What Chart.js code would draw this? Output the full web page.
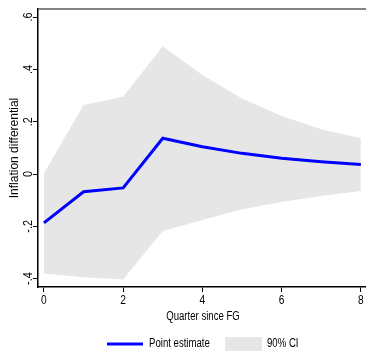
<!DOCTYPE html>
<html>
<head>
<meta charset="utf-8">
<script src="https://cdn.jsdelivr.net/npm/chart.js@4"></script>
<style>
  body { margin: 0; background: #fff; }
  #wrap { width: 366px; height: 351px; position: relative; }
</style>
</head>
<body>
<div id="wrap"><canvas id="grafico"></canvas></div>
<script>
// quarters since FG and estimates
const quarters = [0, 1, 2, 3, 4, 5, 6, 7, 8];
const pointEstimate = [-0.187, -0.068, -0.053, 0.137, 0.104, 0.079, 0.060, 0.047, 0.036];
const ciUpper = [0.002, 0.264, 0.295, 0.489, 0.379, 0.289, 0.222, 0.171, 0.137];
const ciLower = [-0.380, -0.395, -0.403, -0.218, -0.176, -0.135, -0.107, -0.084, -0.065];

const xTicks = [0, 2, 4, 6, 8];
const yTicks = [-0.4, -0.2, 0, 0.2, 0.4, 0.6];
const yTickLabels = ["-.4", "-.2", "0", ".2", ".4", ".6"];

const FONT = "'Liberation Sans', Arial, sans-serif";

function toPoints(vals) {
  return quarters.map(function (q, i) { return { x: q, y: vals[i] }; });
}

// text squeezed horizontally (stata font is narrow), optional rotation
function texto(ctx, str, x, y, align, rot, sq) {
  ctx.save();
  ctx.translate(x, y);
  if (rot) ctx.rotate(rot);
  ctx.scale(sq || 0.8, 1);
  ctx.textAlign = align;
  ctx.textBaseline = "middle";
  ctx.fillText(str, 0, 0);
  ctx.restore();
}

// axis labels, legend and the top frame line
const extras = {
  id: "extras",
  afterDraw: function (chart) {
    const ctx = chart.ctx;
    const area = chart.chartArea;
    const ys = chart.scales.y;
    const xs = chart.scales.x;

    ctx.save();
    // top line
    ctx.strokeStyle = "#5a5a5a";
    ctx.lineWidth = 1.5;
    ctx.beginPath();
    ctx.moveTo(area.left, area.top);
    ctx.lineTo(area.right, area.top);
    ctx.stroke();

    ctx.fillStyle = "#000";
    ctx.font = "12px " + FONT;

    // rotated y tick labels
    yTicks.forEach(function (v, i) {
      texto(ctx, yTickLabels[i], 28.5, ys.getPixelForValue(v), "center", -Math.PI / 2, 0.9);
    });

    // x tick labels
    xTicks.forEach(function (v) {
      texto(ctx, String(v), xs.getPixelForValue(v), 301, "center", 0, 0.85);
    });

    // titles
    texto(ctx, "Inflation differential", 15, (area.top + area.bottom) / 2, "center", -Math.PI / 2, 1);
    texto(ctx, "Quarter since FG", 203, 317, "center", 0);

    // legend
    ctx.strokeStyle = "#0000ff";
    ctx.lineWidth = 3;
    ctx.beginPath();
    ctx.moveTo(107, 344);
    ctx.lineTo(143, 344);
    ctx.stroke();
    texto(ctx, "Point estimate", 149, 344, "left", 0);
    ctx.fillStyle = "#e6e6e6";
    ctx.fillRect(225, 337, 37, 15);
    ctx.fillStyle = "#000";
    texto(ctx, "90% CI", 267, 344, "left", 0);
    ctx.restore();
  }
};

const ctx = document.getElementById("grafico").getContext("2d");

const grafico = new Chart(ctx, {
  type: "line",
  data: {
    datasets: [
      {
        label: "Point estimate",
        data: toPoints(pointEstimate),
        borderColor: "#0000ff",
        borderWidth: 3,
        pointRadius: 0,
        fill: false,
        order: 0,
        tension: 0
      },
      {
        label: "90% CI upper",
        data: toPoints(ciUpper),
        borderWidth: 0,
        borderColor: "rgba(0,0,0,0)",
        backgroundColor: "#e6e6e6",
        pointRadius: 0,
        fill: "+1",
        order: 2
      },
      {
        label: "90% CI lower",
        data: toPoints(ciLower),
        borderWidth: 0,
        borderColor: "rgba(0,0,0,0)",
        pointRadius: 0,
        fill: false,
        order: 3
      }
    ]
  },
  options: {
    responsive: true,
    maintainAspectRatio: false,
    animation: false,
    layout: { padding: { top: 9, right: 0, bottom: 0, left: 0 } },
    plugins: {
      legend: { display: false },
      tooltip: { enabled: false },
      title: { display: false }
    },
    scales: {
      x: {
        type: "linear",
        min: -0.15,
        max: 8.13,
        afterBuildTicks: function (s) { s.ticks = xTicks.map(function (v) { return { value: v }; }); },
        afterFit: function (s) { s.height = 64; },
        grid: { drawOnChartArea: false, drawTicks: true, tickLength: 5, color: "#000", lineWidth: 1 },
        border: { display: true, color: "#000", width: 1.5 },
        ticks: { display: false }
      },
      y: {
        type: "linear",
        min: -0.432,
        max: 0.631,
        afterBuildTicks: function (s) { s.ticks = yTicks.map(function (v) { return { value: v }; }); },
        afterFit: function (s) { s.width = 38; },
        grid: { drawOnChartArea: false, drawTicks: true, tickLength: 5, color: "#000", lineWidth: 1 },
        border: { display: true, color: "#000", width: 1.5 },
        ticks: { display: false }
      }
    }
  },
  plugins: [extras]
});
</script>
</body>
</html>
